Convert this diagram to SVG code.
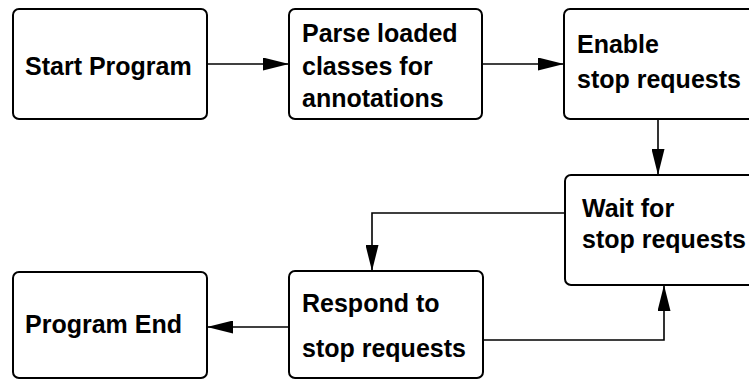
<svg xmlns="http://www.w3.org/2000/svg" width="749" height="381" viewBox="0 0 749 381">
<style>
.box{fill:#fff;stroke:#000;stroke-width:2}
.lbl{font-family:"Liberation Sans",Arial,Helvetica,sans-serif;font-weight:bold;font-size:25px;fill:#000}
.edge{fill:none;stroke:#000;stroke-width:1.6}
</style>
<defs>
<marker id="ah" markerUnits="userSpaceOnUse" markerWidth="26" markerHeight="13" refX="26" refY="6.5" orient="auto">
<path d="M0,0 L26,6.5 L0,13 z" fill="#000"/>
</marker>
</defs>
<rect width="749" height="381" fill="#fff"/>
<g id="start">
<rect class="box" x="13" y="9" width="194" height="110" rx="6"/>
<text class="lbl" x="25" y="75">Start Program</text>
</g>
<g id="parse">
<rect class="box" x="289" y="9" width="193" height="110" rx="6"/>
<text class="lbl" x="302" y="42">Parse loaded</text>
<text class="lbl" x="302" y="75">classes for</text>
<text class="lbl" x="302" y="107">annotations</text>
</g>
<g id="enable">
<rect class="box" x="564" y="9" width="200" height="110" rx="6"/>
<text class="lbl" x="577" y="53">Enable</text>
<text class="lbl" x="577" y="88">stop requests</text>
</g>
<g id="wait">
<rect class="box" x="565" y="175" width="200" height="110" rx="6"/>
<text class="lbl" x="582" y="217">Wait for</text>
<text class="lbl" x="582" y="248">stop requests</text>
</g>
<g id="respond">
<rect class="box" x="289" y="271" width="194" height="107" rx="6"/>
<text class="lbl" x="302" y="312">Respond to</text>
<text class="lbl" x="302" y="357">stop requests</text>
</g>
<g id="end">
<rect class="box" x="13" y="272" width="194" height="106" rx="6"/>
<text class="lbl" x="25" y="333">Program End</text>
</g>
<g id="connectors">
<path class="edge" d="M207,64 L289,64" marker-end="url(#ah)"/>
<path class="edge" d="M482,64 L564,64" marker-end="url(#ah)"/>
<path class="edge" d="M658,120 L658,175" marker-end="url(#ah)"/>
<path class="edge" d="M565,213 L372,213 L372,271" marker-end="url(#ah)"/>
<path class="edge" d="M289,327 L207,327" marker-end="url(#ah)"/>
<path class="edge" d="M483,340 L664,340 L664,285" marker-end="url(#ah)"/>
</g>
</svg>
